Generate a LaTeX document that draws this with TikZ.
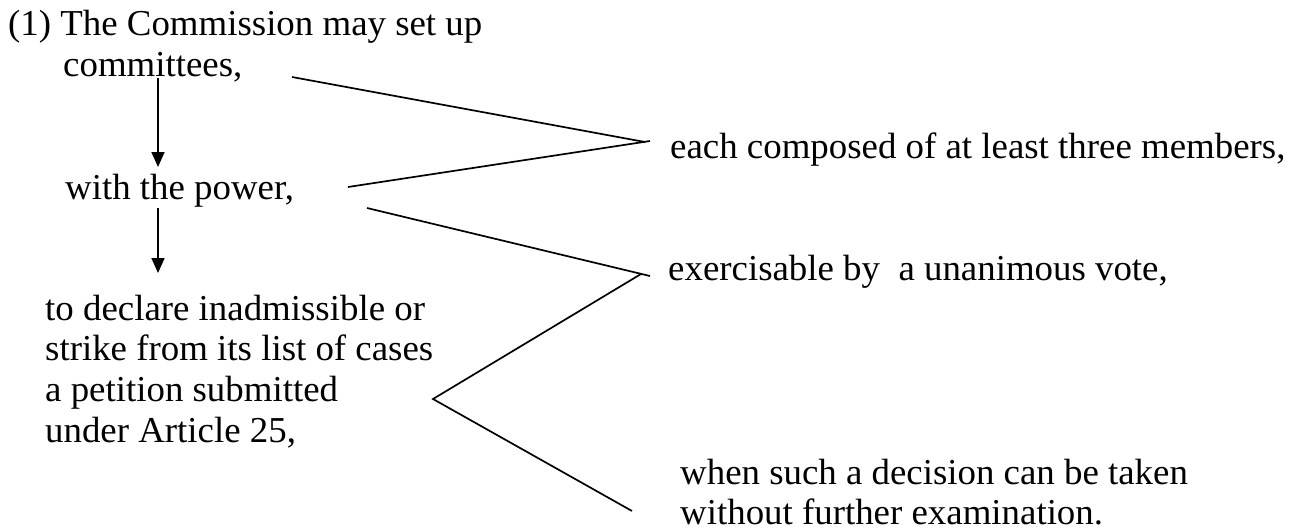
\documentclass[tikz,border=0pt]{standalone}
\usepackage{fontspec}
\setmainfont{Liberation Serif}[FakeStretch=1.01]
\usetikzlibrary{arrows.meta}
\tikzset{
  txt/.style={anchor=base west, inner sep=0pt, font=\fontsize{36.5}{40.7}\selectfont},
  conn/.style={line width=1.7pt, black},
  arr/.style={conn, -{Triangle[length=15pt,width=13pt]}}
}
\begin{document}
\begin{tikzpicture}[x=1pt,y=-1pt]
\useasboundingbox (0,0) rectangle (1302,531);
% texts
\node[txt] (t1) at (8,35) {(1) The Commission may set up};
\node[txt] (t2) at (63,76) {committees,};
\node[txt] (t3) at (65,199) {with the power,};
\node[txt] (t4) at (45,320) {\begin{tabular}[t]{@{}l@{}}to declare inadmissible or\\strike from its list of cases\\a petition submitted\\under Article 25,\end{tabular}};
\node[txt] (t5) at (670,158) {each composed of at least three members,};
\node[txt] (t6) at (668,280) {exercisable by\ \ a unanimous vote,};
\node[txt] (t7) at (680,484) {\begin{tabular}[t]{@{}l@{}}when such a decision can be taken\\without further examination.\end{tabular}};
% connector end points
\coordinate (a1s) at (158,78);
\coordinate (a1e) at (158,167);
\coordinate (a2s) at (158,208);
\coordinate (a2e) at (158,273);
\coordinate (c1) at (292,77);
\coordinate (c2) at (645,142);
\coordinate (p1) at (348,187);
\coordinate (p2) at (650,141);
\coordinate (q1) at (367,208);
\coordinate (q2) at (650,276);
\coordinate (r0) at (641,274);
\coordinate (rv) at (433,399);
\coordinate (r1) at (632,511);
% connectors
\draw[arr] (a1s) -- (a1e);
\draw[arr] (a2s) -- (a2e);
\draw[conn] (c1) -- (c2);
\draw[conn] (p1) -- (p2);
\draw[conn] (q1) -- (q2);
\draw[conn] (r0) -- (rv) -- (r1);
\end{tikzpicture}
\end{document}
